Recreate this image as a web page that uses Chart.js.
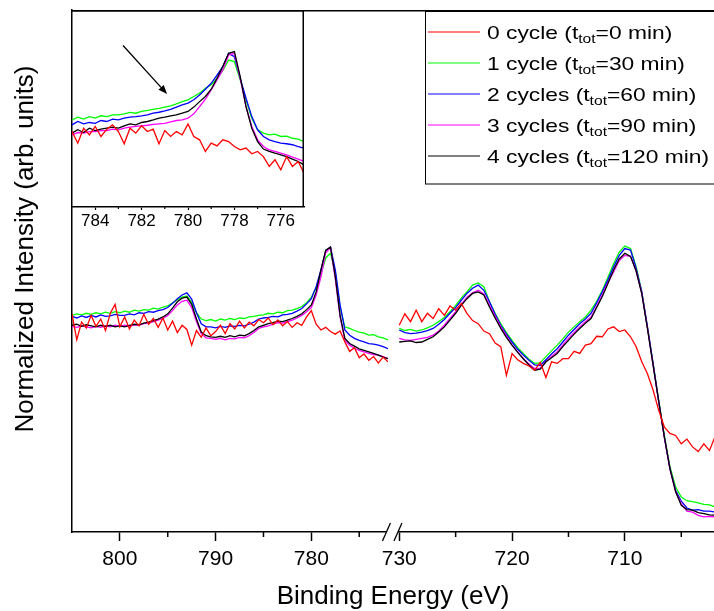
<!DOCTYPE html>
<html>
<head>
<meta charset="utf-8">
<title>XPS Fe 2p</title>
<script src="https://cdn.jsdelivr.net/npm/chart.js@4.4.1/dist/chart.umd.min.js"></script>
<style>
  body { margin: 0; background: #fff; }
  #wrap { position: relative; width: 714px; height: 611px; }
  #main { position: absolute; left: 0; top: 0; }
  #inset { position: absolute; left: 72px; top: 10px; }
</style>
</head>
<body>
<div id="wrap">
  <canvas id="main" width="714" height="611"></canvas>
  <canvas id="inset" width="233" height="230"></canvas>
</div>
<script>
// energy grids (eV): 0.5 eV steps in the main panel, 0.25 eV in the inset
function grid(from, to, step) {
    const out = [];
    for (let e = from; e >= to - 1e-9; e -= step) out.push(+e.toFixed(2));
    return out;
}
const energyLeft = grid(805, 772, 0.5);
const energyRight = grid(730, 702, 0.5);
const energyInset = grid(785, 775, 0.25);

// tick labels
const ticksLeft = [800, 790, 780];
const minorLeft = [795, 785, 775];
const ticksRight = [730, 720, 710];
const minorRight = [725, 715, 705];
const ticksInset = [784, 782, 780, 778, 776];
const minorInset = [783, 781, 779, 777];

// legend
const legendCycles = ['0 cycle', '1 cycle', '2 cycles', '3 cycles', '4 cycles'];
const legendTimes = [0, 30, 60, 90, 120];
const seriesColors = ['#ff0000', '#00ff00', '#0000ff', '#ff00ff', '#000000'];

// main panel, 805 -> 772 eV
const redLeft = [
    41.8, 36.8, 40.2, 39.1, 41.5, 39.4, 40.8, 38.6, 41.9, 43.6,
    39.3, 41.2, 38.9, 40.6, 39.5, 41.7, 39.8, 40.9, 39.2, 41.0,
    38.7, 40.4, 38.2, 39.6, 38.8, 35.8, 38.6, 37.3, 39.1, 37.6,
    38.4, 39.6, 38.0, 39.9, 38.9, 40.4, 39.1, 40.2, 39.5, 40.7,
    40.1, 41.0, 39.7, 40.6, 39.5, 40.3, 39.2, 40.1, 39.6, 41.2,
    42.4, 39.8, 38.7, 39.2, 38.4, 37.9, 38.5, 36.4, 34.6, 35.3,
    33.4, 34.1, 32.9, 33.6, 32.4, 33.5, 32.6];
const greenLeft = [
    41.5, 41.8, 41.6, 41.9, 41.7, 42.0, 41.8, 42.1, 41.9, 42.2,
    42.0, 42.3, 42.1, 42.5, 42.3, 42.6, 42.5, 42.9, 42.7, 43.1,
    43.3, 43.9, 44.5, 45.0, 45.2, 44.0, 42.0, 40.8, 40.5, 40.7,
    40.4, 40.8, 40.6, 40.9, 40.7, 41.0, 40.9, 41.2, 41.3, 41.5,
    41.6, 41.9, 41.8, 42.1, 42.0, 42.4, 42.5, 42.8, 43.2, 43.9,
    45.0, 46.8, 49.3, 52.5, 53.4, 49.8, 43.1, 39.3, 39.0, 38.6,
    38.3, 38.1, 37.7, 37.8, 37.4, 37.2, 36.8];
const blueLeft = [
    41.3, 41.0, 41.4, 41.1, 41.5, 41.2, 41.6, 41.3, 41.4, 41.7,
    41.5, 41.5, 41.8, 41.6, 42.0, 41.9, 42.2, 42.1, 42.4, 42.6,
    43.0, 43.8, 44.7, 45.4, 45.8, 44.6, 42.0, 39.9, 39.3, 39.3,
    39.1, 39.4, 39.2, 39.5, 39.4, 39.6, 39.5, 39.8, 40.2, 40.8,
    41.0, 41.1, 41.3, 41.2, 41.6, 41.7, 41.9, 42.3, 42.8, 43.7,
    44.7, 47.0, 50.2, 53.8, 54.6, 50.2, 43.5, 38.7, 37.7, 37.1,
    36.7, 36.4, 36.1, 36.0, 35.8, 35.5, 35.1];
const magentaLeft = [
    39.4, 39.2, 39.5, 39.3, 39.1, 39.4, 39.2, 39.5, 39.3, 39.6,
    39.4, 39.6, 39.4, 39.7, 39.6, 39.9, 40.0, 40.3, 40.6, 40.9,
    41.5, 42.4, 43.5, 44.2, 44.4, 43.0, 40.3, 38.0, 37.2, 37.1,
    36.9, 37.1, 36.8, 37.1, 37.0, 37.3, 37.2, 37.6, 38.2, 39.0,
    39.3, 39.5, 39.8, 40.1, 40.0, 40.3, 40.6, 41.0, 41.5, 42.2,
    43.0, 45.4, 48.9, 53.5, 54.5, 48.5, 41.2, 36.7, 35.8, 35.2,
    34.8, 34.5, 34.2, 34.0, 33.9, 33.6, 33.2];
const blackLeft = [
    39.6, 39.8, 39.4, 39.7, 39.5, 39.3, 39.6, 39.4, 39.6, 39.3,
    39.5, 39.3, 39.6, 39.8, 39.7, 40.0, 40.2, 40.5, 40.8, 41.2,
    41.8, 42.9, 44.1, 44.8, 45.0, 43.6, 40.8, 38.3, 37.6, 37.4,
    37.3, 37.5, 37.3, 37.6, 37.4, 37.7, 37.6, 38.0, 38.6, 39.3,
    39.6, 39.9, 40.1, 40.4, 40.3, 40.6, 40.9, 41.3, 41.8, 42.6,
    43.5, 46.0, 50.2, 54.0, 54.6, 48.9, 41.5, 37.1, 36.1, 35.6,
    35.1, 34.8, 34.5, 34.2, 33.9, 33.5, 33.2];

// main panel, 730 -> 702 eV
const redRight = [
    39.6, 41.8, 40.3, 42.5, 40.3, 41.9, 40.9, 42.8, 41.5, 43.3,
    42.5, 43.8, 41.9, 40.5, 39.9, 38.5, 38.0, 36.2, 35.5, 30.0,
    34.2, 33.0, 32.3, 31.8, 31.0, 32.5, 29.6, 32.6, 32.3, 33.2,
    33.2, 34.6, 34.2, 35.8, 36.1, 37.5, 37.4, 38.9, 39.3, 38.4,
    38.7, 37.4, 35.5, 32.6, 30.3, 27.2, 23.3, 20.1, 18.9, 18.5,
    16.9, 17.8, 16.3, 15.4, 16.9, 15.6, 18.3];
const greenRight = [
    39.0, 38.6, 38.8, 38.5, 38.7, 39.1, 39.6, 40.3, 41.1, 42.2,
    43.4, 44.8, 46.0, 47.3, 47.7, 47.0, 44.1, 41.9, 39.9, 38.2,
    36.7, 35.3, 34.2, 33.1, 32.3, 32.4, 33.6, 34.7, 35.8, 37.0,
    38.3, 39.3, 40.3, 41.2, 42.5, 44.2, 46.3, 48.8, 51.4, 53.6,
    54.8, 54.3, 50.8, 46.0, 39.3, 32.3, 25.2, 18.5, 12.5, 8.6,
    6.7, 6.0, 5.8, 5.6, 5.3, 5.2, 4.8];
const blueRight = [
    38.7, 38.2, 38.0, 38.1, 38.3, 38.6, 39.0, 39.8, 40.7, 41.9,
    43.0, 44.4, 45.7, 46.7, 47.3, 46.3, 44.1, 41.7, 39.6, 37.9,
    36.4, 35.0, 33.9, 32.9, 32.0, 31.9, 33.0, 34.1, 35.1, 36.4,
    37.7, 38.8, 39.9, 40.8, 41.9, 43.9, 46.0, 48.3, 50.8, 53.0,
    54.3, 54.0, 50.5, 46.0, 39.3, 32.3, 25.0, 18.2, 12.1, 8.0,
    5.9, 4.6, 4.2, 4.3, 4.0, 4.0, 3.8];
const magentaRight = [
    37.1, 36.8, 36.7, 36.9, 37.1, 37.3, 37.7, 38.5, 39.6, 40.9,
    42.2, 43.6, 45.0, 45.8, 46.3, 45.6, 43.5, 41.3, 39.3, 37.6,
    35.8, 34.5, 33.2, 32.2, 31.3, 31.4, 32.6, 33.6, 34.5, 35.8,
    37.1, 38.2, 39.3, 40.3, 41.2, 43.2, 45.4, 47.8, 49.8, 52.0,
    53.0, 52.8, 50.0, 45.7, 39.1, 32.0, 24.9, 18.1, 12.0, 7.7,
    5.4, 4.0, 3.8, 3.2, 2.9, 3.0, 2.9];
const blackRight = [
    36.4, 36.5, 36.6, 36.3, 36.4, 36.9, 37.4, 38.3, 39.3, 40.6,
    41.9, 43.4, 44.7, 45.7, 46.0, 45.4, 43.1, 41.0, 39.0, 37.3,
    35.8, 34.4, 33.2, 32.0, 31.0, 31.2, 32.6, 33.4, 34.2, 35.5,
    36.7, 37.9, 39.0, 40.0, 40.9, 43.0, 45.1, 47.6, 50.2, 52.3,
    53.4, 52.8, 50.0, 45.6, 39.0, 32.0, 25.0, 18.2, 12.1, 7.7,
    5.1, 4.3, 4.2, 3.7, 3.5, 3.3, 3.2];

// inset, 785 -> 775 eV
const redInset = [
    38.3, 32.4, 40.0, 36.6, 40.9, 35.8, 39.5, 41.7,
    38.3, 32.1, 40.0, 37.5, 41.2, 38.3, 39.5, 32.1,
    38.8, 35.8, 38.3, 36.6, 42.2, 35.8, 34.1, 28.2,
    32.4, 31.0, 34.1, 33.2, 30.7, 29.0, 29.9, 27.0,
    28.2, 25.6, 20.6, 24.0, 18.9, 25.6, 20.6, 23.1,
    17.2];
const greenInset = [
    44.2, 45.6, 44.6, 45.9, 45.1, 46.3, 45.9, 46.8,
    46.8, 47.3, 48.0, 47.6, 48.5, 49.0, 49.6, 50.1,
    50.7, 51.3, 52.3, 53.5, 54.4, 56.1, 57.8, 60.3,
    62.0, 65.3, 69.2, 74.6, 73.8, 64.5, 54.4, 45.1,
    39.2, 37.5, 36.6, 37.0, 35.8, 36.0, 34.9, 34.4,
    33.2];
const blueInset = [
    41.7, 43.4, 42.2, 42.9, 42.5, 43.9, 43.4, 44.6,
    44.2, 45.1, 45.6, 45.9, 46.3, 46.8, 47.6, 48.1,
    48.8, 49.6, 50.7, 51.8, 52.7, 54.4, 56.9, 59.8,
    62.8, 67.0, 71.3, 78.0, 76.3, 65.3, 55.2, 45.9,
    39.2, 35.8, 34.1, 33.2, 32.4, 32.1, 31.6, 30.7,
    29.9];
const magentaInset = [
    36.6, 37.8, 37.5, 38.3, 38.3, 38.8, 38.8, 39.5,
    39.2, 40.0, 40.5, 40.9, 41.2, 41.5, 41.9, 42.2,
    42.5, 43.2, 43.9, 44.2, 45.1, 47.3, 51.0, 54.7,
    59.4, 64.5, 69.6, 77.2, 78.0, 65.3, 51.0, 40.9,
    34.1, 30.7, 29.0, 28.2, 27.3, 26.5, 25.3, 24.3,
    23.1];
const blackInset = [
    37.5, 39.2, 37.8, 40.0, 38.8, 39.5, 40.0, 40.5,
    40.0, 41.2, 42.2, 41.7, 42.9, 43.4, 44.2, 45.1,
    45.6, 46.3, 46.8, 47.6, 48.5, 50.7, 53.5, 56.1,
    59.8, 65.3, 71.3, 78.0, 78.9, 66.2, 51.0, 40.0,
    33.2, 29.4, 28.2, 27.3, 26.5, 25.6, 24.3, 23.1,
    21.4];

// arrow in the inset, [energy, intensity]
const arrowFrom = [782.8, 82.0];
const arrowTo = [780.9, 57.3];

const FONT = "'Liberation Sans', Arial, sans-serif";
Chart.defaults.font.family = FONT;
Chart.defaults.color = '#000';

const pts = (xs, ys) => xs.map((x, i) => ({ x: x, y: ys[i] }));
const drawOrder = [0, 4, 3, 2, 1];

function line(label, data, axis, k) {
    return {
        label: label, data: data, xAxisID: axis,
        borderColor: seriesColors[k], borderWidth: 1.3,
        pointRadius: 0, fill: false, tension: 0, order: drawOrder[k]
    };
}

const leftSeries = [redLeft, greenLeft, blueLeft, magentaLeft, blackLeft];
const rightSeries = [redRight, greenRight, blueRight, magentaRight, blackRight];
const insetSeries = [redInset, greenInset, blueInset, magentaInset, blackInset];

const mainSets = [];
legendCycles.forEach((c, k) => {
    mainSets.push(line(c, pts(energyLeft, leftSeries[k]), 'xL', k));
    mainSets.push(line(c, pts(energyRight, rightSeries[k]), 'xR', k));
});

const xAxisStyle = {
    type: 'linear', position: 'bottom', stack: 'energy', reverse: true,
    grid: { display: true, drawOnChartArea: false, drawTicks: true, tickLength: 9, tickWidth: 1.5, tickColor: '#000' },
    border: { display: true, color: '#000', width: 1.5 },
    ticks: { padding: 6, color: '#000', font: { size: 21 }, maxRotation: 0, autoSkip: false, callback: v => String(v) },
    afterFit: s => { s.height = 79; }
};

function drawLegend(ctx) {
    ctx.save();
    ctx.strokeStyle = '#000';
    ctx.lineWidth = 1;
    ctx.strokeRect(425.5, 11.5, 320, 172.5);
    ctx.textAlign = 'left';
    ctx.textBaseline = 'alphabetic';
    legendCycles.forEach((cyc, i) => {
        const base = 38.5 + i * 31;
        ctx.strokeStyle = seriesColors[i];
        ctx.lineWidth = 1.2;
        ctx.beginPath();
        ctx.moveTo(428, base - 6.5);
        ctx.lineTo(480, base - 6.5);
        ctx.stroke();
        ctx.save();
        ctx.translate(487, base);
        ctx.scale(1.2, 1);
        ctx.fillStyle = '#000';
        let x = 0;
        const parts = [[cyc + ' (t', 19, 0], ['tot', 13, 4.5], ['=' + legendTimes[i] + ' min)', 19, 0]];
        parts.forEach(([txt, size, dy]) => {
            ctx.font = size + 'px ' + FONT;
            ctx.fillText(txt, x, dy);
            x += ctx.measureText(txt).width;
        });
        ctx.restore();
    });
    ctx.restore();
}

const mainDecor = {
    id: 'mainDecor',
    afterDraw(chart) {
        const { ctx, chartArea: a, scales } = chart;
        ctx.save();
        ctx.strokeStyle = '#000';
        ctx.lineWidth = 1.5;
        // top frame
        ctx.beginPath();
        ctx.moveTo(a.left, a.top + 0.75);
        ctx.lineTo(a.right, a.top + 0.75);
        ctx.stroke();
        // minor ticks
        [['xL', minorLeft], ['xR', minorRight]].forEach(([id, vals]) => {
            vals.forEach(v => {
                const x = scales[id].getPixelForValue(v);
                ctx.beginPath();
                ctx.moveTo(x, a.bottom);
                ctx.lineTo(x, a.bottom + 5);
                ctx.stroke();
            });
        });
        // axis break
        const bx = scales.xL.right;
        ctx.fillStyle = '#fff';
        ctx.fillRect(bx - 1, a.bottom - 3, 11, 7);
        ctx.lineWidth = 1.3;
        [bx - 1.5, bx + 10].forEach(cx => {
            ctx.beginPath();
            ctx.moveTo(cx - 4, a.bottom + 9);
            ctx.lineTo(cx + 4, a.bottom - 9);
            ctx.stroke();
        });
        // axis titles
        ctx.fillStyle = '#000';
        ctx.font = '26px ' + FONT;
        ctx.textAlign = 'center';
        ctx.textBaseline = 'alphabetic';
        ctx.fillText('Binding Energy (eV)', (a.left + a.right) / 2, 604);
        ctx.save();
        ctx.translate(33, 249);
        ctx.rotate(-Math.PI / 2);
        ctx.fillText('Normalized Intensity (arb. units)', 0, 0);
        ctx.restore();
        ctx.restore();
        drawLegend(ctx);
    }
};

new Chart(document.getElementById('main'), {
    type: 'line',
    data: { datasets: mainSets },
    options: {
        responsive: false, animation: false, devicePixelRatio: 1,
        layout: { padding: { top: 10, left: 0, right: 0, bottom: 0 } },
        plugins: { legend: { display: false }, tooltip: { enabled: false } },
        scales: {
            xL: Object.assign({}, xAxisStyle, {
                min: 772, max: 805, stackWeight: 315.8,
                afterBuildTicks: s => { s.ticks = ticksLeft.map(v => ({ value: v })); }
            }),
            xR: Object.assign({}, xAxisStyle, {
                min: 702.1, max: 731, stackWeight: 325.9,
                afterBuildTicks: s => { s.ticks = ticksRight.map(v => ({ value: v })); }
            }),
            y: {
                min: 0, max: 100, position: 'left',
                ticks: { display: false }, grid: { display: false },
                border: { display: true, color: '#000', width: 1.5 },
                afterFit: s => { s.width = 72; }
            }
        }
    },
    plugins: [mainDecor]
});

// inset
const insetDecor = {
    id: 'insetDecor',
    afterDraw(chart) {
        const { ctx, chartArea: a, scales } = chart;
        ctx.save();
        ctx.strokeStyle = '#000';
        ctx.lineWidth = 1.5;
        ctx.beginPath();
        ctx.moveTo(a.left, a.top + 0.75);
        ctx.lineTo(a.right - 0.75, a.top + 0.75);
        ctx.lineTo(a.right - 0.75, a.bottom);
        ctx.stroke();
        ctx.lineWidth = 1.2;
        minorInset.forEach(v => {
            const x = scales.x.getPixelForValue(v);
            ctx.beginPath();
            ctx.moveTo(x, a.bottom);
            ctx.lineTo(x, a.bottom + 2);
            ctx.stroke();
        });
        // arrow
        const x0 = scales.x.getPixelForValue(arrowFrom[0]), y0 = scales.y.getPixelForValue(arrowFrom[1]);
        const x1 = scales.x.getPixelForValue(arrowTo[0]), y1 = scales.y.getPixelForValue(arrowTo[1]);
        const ang = Math.atan2(y1 - y0, x1 - x0);
        ctx.lineWidth = 1.3;
        ctx.beginPath();
        ctx.moveTo(x0, y0);
        ctx.lineTo(x1 - 6 * Math.cos(ang), y1 - 6 * Math.sin(ang));
        ctx.stroke();
        ctx.fillStyle = '#000';
        ctx.beginPath();
        ctx.moveTo(x1, y1);
        ctx.lineTo(x1 - 9 * Math.cos(ang) + 3.5 * Math.sin(ang), y1 - 9 * Math.sin(ang) - 3.5 * Math.cos(ang));
        ctx.lineTo(x1 - 9 * Math.cos(ang) - 3.5 * Math.sin(ang), y1 - 9 * Math.sin(ang) + 3.5 * Math.cos(ang));
        ctx.closePath();
        ctx.fill();
        ctx.restore();
    }
};

new Chart(document.getElementById('inset'), {
    type: 'line',
    data: { datasets: legendCycles.map((c, k) => line(c, pts(energyInset, insetSeries[k]), 'x', k)) },
    options: {
        responsive: false, animation: false, devicePixelRatio: 1,
        layout: { padding: { top: 0, left: 0, right: 1, bottom: 0 } },
        plugins: { legend: { display: false }, tooltip: { enabled: false } },
        scales: {
            x: {
                type: 'linear', reverse: true, min: 775, max: 785,
                grid: { display: true, drawOnChartArea: false, drawTicks: true, tickLength: 3, tickWidth: 1.2, tickColor: '#000' },
                border: { display: true, color: '#000', width: 1.5 },
                ticks: { padding: 1, color: '#000', font: { size: 17 }, maxRotation: 0, autoSkip: false, callback: v => String(v) },
                afterBuildTicks: s => { s.ticks = ticksInset.map(v => ({ value: v })); },
                afterFit: s => { s.height = 33; }
            },
            y: { display: false, min: 0, max: 100 }
        }
    },
    plugins: [insetDecor]
});
</script>
</body>
</html>
